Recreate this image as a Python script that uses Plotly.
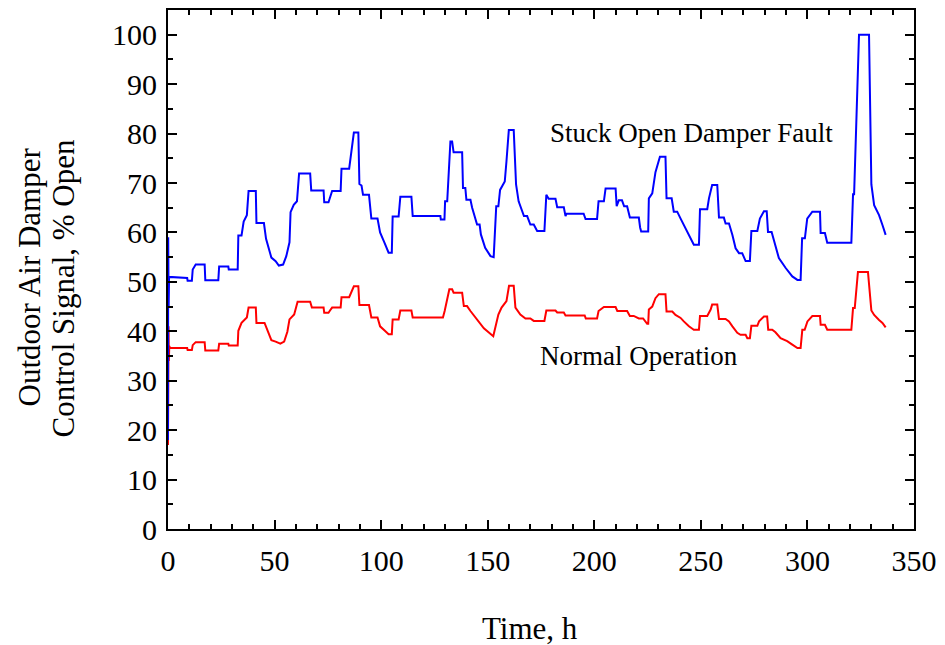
import plotly.graph_objects as go

# ---- data (time in hours, damper signal in % open) ----
fault_t = [0, 0.1, 0.3, 0.5, 9, 9.2, 11.2, 11.6, 13, 17.2, 17.5, 23.6, 24, 28.3, 28.5, 32.7, 33, 34.5, 35.5, 37,
           37.8, 41.2, 41.5, 45, 46, 48.5, 50.5, 52, 54, 55.5, 57, 57.5, 59, 60.5, 61.5, 66.7, 67.2, 73, 73.3, 75.3,
           76, 77, 81, 81.4, 85, 86, 87.2, 89.3, 89.8, 90.8, 91.5, 94.3, 95.4, 98.3, 99.5, 101.5, 103.5, 105, 105.4, 108.2,
           109, 114.2, 114.8, 127.8, 128, 129.7, 130, 131, 132.5, 133.3, 134, 138, 138.4, 139.5, 140, 141.9, 142.7, 145, 146.2, 146.8,
           148.8, 151.3, 152.8, 154, 155, 155.8, 158, 158.8, 159.9, 162.2, 163.3, 164.5, 167, 168.5, 170, 171.6, 173.2, 176.6, 177.5, 178.6,
           181.8, 182.6, 185.7, 186.5, 187, 195, 195.9, 201.3, 202, 204.5, 205.3, 210, 210.5, 211.5, 213, 214, 215.4, 216.7, 220.9, 221.5,
           222, 225.3, 225.6, 227.2, 228.7, 230.8, 233.4, 233.9, 236.3, 237.3, 238.9, 240.5, 242, 244.4, 246.7, 249.1, 249.6, 253, 253.8, 255.3,
           257.7, 258.5, 260.8, 261.6, 263.2, 264.8, 266.3, 267.9, 269.4, 271, 273, 273.7, 276.5, 277.7, 279.6, 280.9, 281.5, 283.2, 285, 286.6,
           289.8, 292.9, 295.3, 296.8, 297.5, 298.8, 299.9, 302.3, 305.9, 306.2, 308.2, 309.3, 320.6, 321.4, 321.9, 324.2, 328.9, 330, 331.3, 333.6,
           335.2, 336.7]
fault_v = [18, 59, 45, 51, 50.8, 50.2, 50.2, 52.5, 53.5, 53.5, 50.3, 50.3, 53.1, 53.1, 52.5, 52.5, 59.4, 59.4, 62.2, 63.5,
           68.4, 68.4, 61.9, 61.9, 58.7, 54.9, 54.2, 53.3, 53.5, 55.2, 58, 64.1, 65.6, 66.3, 71.9, 71.9, 68.5, 68.5, 66.1, 66.1,
           67, 68.4, 68.4, 72.9, 72.9, 76.7, 80.2, 80.2, 69.8, 69.5, 67.6, 67.6, 62.8, 62.8, 60, 58, 55.9, 55.9, 63.2, 63.2,
           67.2, 67.2, 63.3, 63.3, 62.6, 62.6, 66.3, 66.3, 78.4, 78.4, 76.2, 76.2, 69, 69, 66.6, 66.6, 65, 61.6, 61.6, 59.6,
           56.9, 55.2, 55, 65.3, 65.3, 68.6, 70.3, 74.4, 80.7, 80.7, 69.7, 66.3, 63.3, 63.3, 61.6, 61.6, 60.3, 60.3, 67.6, 66.8,
           66.8, 65.1, 65.1, 63.3, 63.8, 63.8, 62.7, 62.7, 66.3, 66.3, 68.9, 68.9, 65.3, 66.5, 66.5, 65.3, 65.3, 63, 63, 61,
           60.2, 60.2, 66.9, 67.9, 72.2, 75.3, 75.3, 66.9, 66.9, 64.2, 64.2, 62.8, 61.5, 59.5, 57.5, 57.5, 64.7, 64.7, 66.9, 69.6,
           69.6, 63, 63, 61.8, 61.8, 59.5, 56.8, 55.8, 55.8, 54.2, 54.2, 60.3, 60.3, 62.8, 64.3, 64.3, 60.1, 60.1, 57.5, 54.8,
           52.8, 51.1, 50.4, 50.4, 58.8, 58.8, 62.8, 64.2, 64.2, 59.9, 59.9, 57.9, 57.9, 67.7, 67.7, 100, 100, 69.7, 65.5, 63.5,
           61.5, 59.5]

normal_t = [0, 0.1, 0.25, 0.4, 0.6, 1, 9, 9.2, 11.2, 11.6, 13, 17.2, 17.5, 23.6, 24, 28.3, 28.5, 32.7, 33, 34.5,
            37, 37.8, 41.2, 41.5, 45.3, 46.8, 48.5, 50.5, 52.7, 54.5, 56, 57, 59.2, 60.8, 66.7, 67.5, 73, 73.3, 75.3, 76,
            77, 81, 81.4, 85, 86, 87.2, 89.3, 89.8, 94.3, 95.4, 98.3, 99.5, 101.5, 103.5, 105, 105.4, 108.2, 109, 114.2, 114.8,
            129, 129.8, 132, 133.3, 134, 138, 138.8, 140.3, 141.9, 145, 148.2, 152.6, 155, 156.5, 158.8, 160, 162.2, 163, 165.3, 167.7,
            170, 171.6, 176.6, 177.5, 181.8, 182.6, 185.7, 186.5, 195.5, 196, 201.3, 202, 204.5, 210, 210.8, 215.4, 216.7, 218.5, 220.9, 222.9,
            224.8, 225.3, 225.6, 227.2, 228.7, 230.3, 233.4, 233.9, 236.6, 238.1, 240.5, 242, 244.4, 246.7, 249.1, 249.6, 253, 254.6, 255.3, 257.7,
            258.5, 261.6, 263.2, 264.8, 267.1, 268.6, 271, 271.8, 273, 273.7, 276.5, 277.3, 279.6, 281.1, 281.6, 283.5, 285, 287.4, 290.5, 292.9,
            295.3, 296.8, 297.6, 298.7, 300, 302.3, 305.9, 306.2, 308.2, 309.3, 320.6, 321.4, 322.2, 323.7, 328.4, 330, 331.3, 333.6, 335.2, 336.7]
normal_v = [17, 38, 41, 34, 37, 36.6, 36.6, 36.2, 36.2, 37.2, 37.8, 37.8, 36.1, 36.1, 37.5, 37.5, 37.1, 37.1, 40.1, 41.7,
            42.8, 44.8, 44.8, 41.7, 41.7, 39.9, 38.2, 37.9, 37.5, 37.9, 39.9, 42.4, 43.4, 46, 46, 44.8, 44.8, 43.75, 43.75, 44.2,
            44.8, 44.8, 46.9, 46.9, 47.9, 49.1, 49.1, 45.3, 45.3, 42.8, 42.8, 41, 40.2, 39.4, 39.4, 42.4, 42.4, 44.2, 44.2, 42.8,
            42.8, 44.1, 48.5, 48.5, 47.8, 47.8, 45.1, 45.1, 44.1, 42.4, 40.6, 39, 43.4, 44.8, 46.1, 49.2, 49.2, 44.8, 43.4, 42.6,
            42.6, 42.1, 42.1, 44.2, 44.2, 43.8, 43.8, 43.2, 43.2, 42.6, 42.6, 44.1, 44.9, 44.9, 44.1, 44.1, 43.1, 43.1, 42.6, 42.6,
            41.5, 41.5, 44.4, 45, 46.7, 47.5, 47.5, 44, 44, 43.3, 42.7, 42, 41, 40.3, 40.3, 43.1, 43.1, 44.4, 45.4, 45.4,
            42.5, 42.5, 42, 41, 39.7, 39.3, 39.3, 38.6, 38.6, 41.1, 41.1, 42, 43, 43, 40.3, 40.3, 39.8, 38.6, 38, 37.3,
            36.6, 36.6, 40.3, 40.3, 42, 43.1, 43.1, 41.3, 41.3, 40.3, 40.3, 44.7, 44.7, 52, 52, 44.2, 43.3, 42.3, 41.7, 40.8]

x_ticks = [0, 50, 100, 150, 200, 250, 300, 350]
y_ticks = [0, 10, 20, 30, 40, 50, 60, 70, 80, 90, 100]

FONT = "Liberation Serif, Times New Roman, serif"

fig = go.Figure()
fig.add_trace(go.Scatter(x=normal_t, y=normal_v, mode="lines",
                         line=dict(color="#FF0000", width=2), showlegend=False))
fig.add_trace(go.Scatter(x=fault_t, y=fault_v, mode="lines",
                         line=dict(color="#0000FF", width=2), showlegend=False))

axis_common = dict(
    showgrid=False, zeroline=False, showline=True, linecolor="black", linewidth=2,
    mirror="allticks", ticks="inside", ticklen=9, tickwidth=1.5, tickcolor="black",
    tickfont=dict(family=FONT, size=30, color="black"),
)
fig.update_xaxes(range=[0, 350], tickvals=x_ticks, ticklabelstandoff=4,
                 minor=dict(dtick=10, ticks="inside", ticklen=5, tickwidth=1.5, tickcolor="black"),
                 **axis_common)
fig.update_yaxes(range=[0, 105], tickvals=y_ticks, ticklabelstandoff=3,
                 minor=dict(dtick=5, ticks="inside", ticklen=5, tickwidth=1.5, tickcolor="black"),
                 **axis_common)

ann_font = dict(family=FONT, size=27, color="black")
title_font = dict(family=FONT, size=31, color="black")
fig.add_annotation(x=245.7, y=80.1, xref="x", yref="y", text="Stuck Open Damper Fault",
                   showarrow=False, font=ann_font, xanchor="center", yanchor="middle")
fig.add_annotation(x=221.2, y=34.9, xref="x", yref="y", text="Normal Operation",
                   showarrow=False, font=ann_font, xanchor="center", yanchor="middle")
fig.add_annotation(x=0.485, y=0, xref="paper", yref="paper", text="Time, h",
                   showarrow=False, font=title_font, xanchor="center", yanchor="middle", yshift=-99)
fig.add_annotation(x=0, y=(529 - 276.5) / 521, xref="paper", yref="paper", text="Outdoor Air Damper",
                   showarrow=False, font=title_font, textangle=-90, xanchor="center", yanchor="middle", xshift=-139)
fig.add_annotation(x=0, y=(529 - 287.5) / 521, xref="paper", yref="paper", text="Control Signal, % Open",
                   showarrow=False, font=title_font, textangle=-90, xanchor="center", yanchor="middle", xshift=-105)

fig.update_layout(
    width=945, height=645, margin=dict(l=168, r=31, t=8, b=116),
    paper_bgcolor="white", plot_bgcolor="white",
    font=dict(family=FONT, color="black"),
)
fig.write_html("out.html")
